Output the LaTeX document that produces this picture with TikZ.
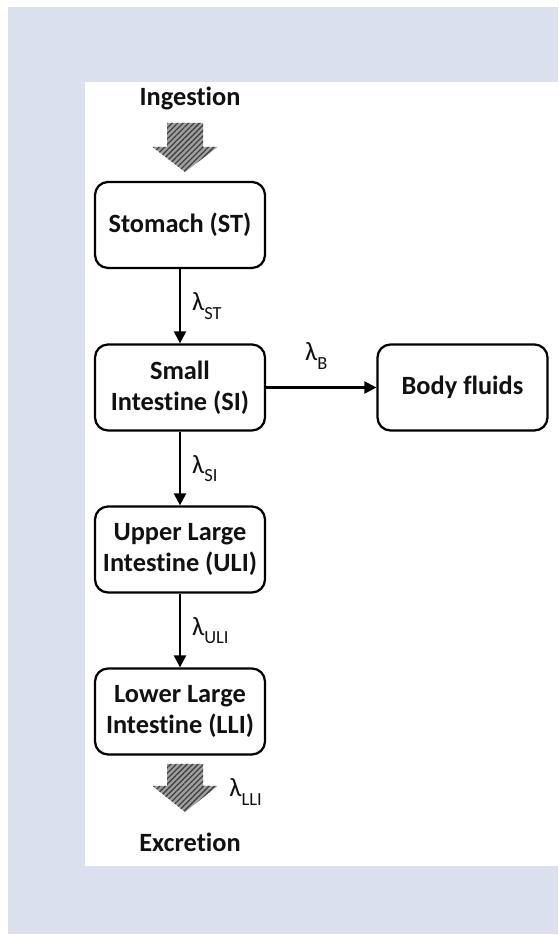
\documentclass[tikz,border=0pt]{standalone}
\usepackage{fontspec}
\setmainfont{Carlito}[Ligatures=NoCommon]
\usepackage{tikz}
\usetikzlibrary{arrows.meta,patterns.meta}
\definecolor{gutink}{HTML}{111111}
\definecolor{gutback}{HTML}{DAE0EE}
\definecolor{guthatch}{HTML}{A0A0A0}
\newcommand{\lamsub}[1]{λ\raisebox{-.32em}{\fontsize{10.5}{10.5}\selectfont #1}}

\begin{document}
\begin{tikzpicture}[>={Triangle[length=.24cm,width=.24cm]},line join=round,
  font=\fontsize{15}{17.8}\selectfont,text=gutink,
  compart/.style={draw=black,line width=.045cm,rounded corners=.26cm,
    minimum width=3.4cm,minimum height=1.72cm,align=center,
    font=\fontsize{15}{17.8}\selectfont\bfseries},
  flow/.style={->,line width=.045cm},
  rate/.style={inner sep=0pt},
  bigarrow/.style={fill=guthatch,
    postaction={pattern={Lines[angle=45,distance=2.2pt,line width=.75pt]},pattern color=black!75}}]
\path[use as bounding box] (0,0) rectangle (11.16,18.70);
\fill[white] (0,0) rectangle (11.16,18.70);
\fill[gutback] (0.16,0.02) rectangle (11.16,18.56);
\fill[white] (1.70,1.38) rectangle (11.16,17.06);

% compartments of the gut model
\node[compart] (st) at (3.60,14.20) {Stomach (ST)};
\node[compart] (si) at (3.60,10.95) {Small\\Intestine (SI)};
\node[compart] (bf) at (9.25,10.95) {Body fluids};
\node[compart] (uli) at (3.60,7.71) {Upper Large\\Intestine (ULI)};
\node[compart] (lli) at (3.60,4.47) {Lower Large\\Intestine (LLI)};

% transfer rates
\draw[flow] (st) -- (si) node[midway,right,rate,xshift=.22cm] (rst) {\lamsub{ST}};
\draw[flow] (si) -- (bf) node[midway,above,rate,yshift=.34cm,xshift=-.1cm] (rb) {\lamsub{B}};
\draw[flow] (si) -- (uli) node[midway,right,rate,xshift=.22cm] (rsi) {\lamsub{SI}};
\draw[flow] (uli) -- (lli) node[midway,right,rate,xshift=.22cm] (ruli) {\lamsub{ULI}};

% intake and output
\node[font=\fontsize{15}{17.8}\selectfont\bfseries] (ing) at (3.80,16.74) {Ingestion};
\node[font=\fontsize{15}{17.8}\selectfont\bfseries] (exc) at (3.80,1.86) {Excretion};
\begin{scope}[shift={(3.70,15.26)}]
  \fill[bigarrow] (-.36,.98) -- (.36,.98) -- (.36,.5) -- (.65,.5) -- (0,0)
    -- (-.65,.5) -- (-.36,.5) -- cycle;
\end{scope}
\begin{scope}[shift={(3.70,2.46)}]
  \fill[bigarrow] (-.36,.96) -- (.36,.96) -- (.36,.52) -- (.65,.52) -- (0,0)
    -- (-.65,.52) -- (-.36,.52) -- cycle;
\end{scope}
\node[rate,anchor=west] (rlli) at (4.58,2.86) {\lamsub{LLI}};
\end{tikzpicture}
\end{document}
